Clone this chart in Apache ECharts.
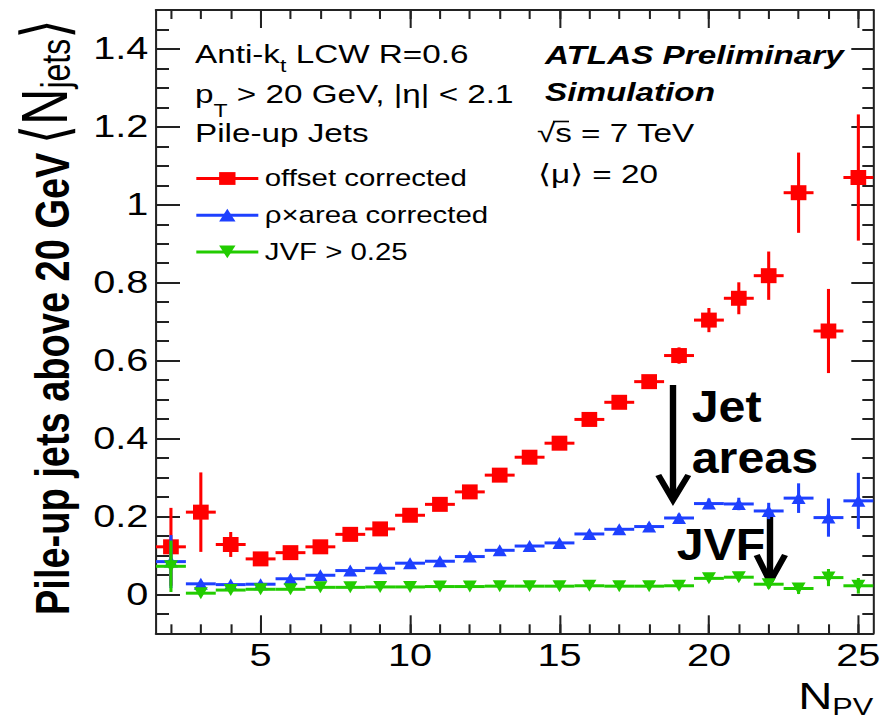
<!DOCTYPE html>
<html>
<head>
<meta charset="utf-8">
<script src="https://cdn.jsdelivr.net/npm/echarts@6/dist/echarts.min.js"></script>
<style>
html, body { margin: 0; padding: 0; background: #ffffff; overflow: hidden; width: 893px; height: 728px; }
#chart { width: 698px; height: 728px; transform: scaleX(1.27937); transform-origin: 0 0; }
</style>
</head>
<body>
<div id="chart"></div>
<script>
// ---------------- data ----------------
const nPV = [2, 3, 4, 5, 6, 7, 8, 9, 10, 11, 12, 13, 14, 15, 16, 17, 18, 19, 20, 21, 22, 23, 24, 25];

const offsetCorrected = [0.122, 0.211, 0.128, 0.091, 0.107, 0.122, 0.154, 0.168, 0.203, 0.231, 0.263, 0.306,
                         0.352, 0.388, 0.449, 0.493, 0.546, 0.613, 0.704, 0.760, 0.818, 1.031, 0.676, 1.070];
const offsetErr       = [0.100, 0.102, 0.032, 0.008, 0.007, 0.007, 0.007, 0.007, 0.008, 0.008, 0.009, 0.009,
                         0.010, 0.011, 0.012, 0.013, 0.015, 0.021, 0.031, 0.041, 0.062, 0.103, 0.108, 0.162];

const rhoAreaCorrected = [0.084, 0.027, 0.025, 0.026, 0.040, 0.049, 0.061, 0.067, 0.080, 0.085, 0.097, 0.113,
                          0.124, 0.132, 0.155, 0.167, 0.174, 0.196, 0.233, 0.232, 0.214, 0.247, 0.197, 0.240];
const rhoAreaErr       = [0.068, 0.004, 0.003, 0.003, 0.003, 0.003, 0.003, 0.004, 0.004, 0.004, 0.005, 0.005,
                          0.006, 0.006, 0.007, 0.008, 0.009, 0.011, 0.013, 0.016, 0.021, 0.038, 0.049, 0.072];

const jvfCut = [0.072, 0.003, 0.011, 0.013, 0.013, 0.018, 0.018, 0.019, 0.019, 0.020, 0.020, 0.021,
                0.021, 0.021, 0.022, 0.021, 0.021, 0.022, 0.041, 0.044, 0.026, 0.015, 0.043, 0.022];
const jvfErr = [0.066, 0.002, 0.002, 0.002, 0.002, 0.002, 0.002, 0.002, 0.002, 0.003, 0.003, 0.003,
                0.003, 0.004, 0.004, 0.004, 0.005, 0.006, 0.008, 0.009, 0.011, 0.014, 0.022, 0.020];

const seriesNames = ['offset corrected', 'ρ×area corrected', 'JVF > 0.25'];

const xTickValues = [5, 10, 15, 20, 25];
const xTickLabels = ['5', '10', '15', '20', '25'];
const xMinorTicks = [2, 3, 4, 5, 6, 7, 8, 9, 10, 11, 12, 13, 14, 15, 16, 17, 18, 19, 20, 21, 22, 23, 24, 25];
const yTickValues = [0, 0.2, 0.4, 0.6, 0.8, 1, 1.2, 1.4];
const yTickLabels = ['0', '0.2', '0.4', '0.6', '0.8', '1', '1.2', '1.4'];
const yMinorTicks = [-0.05, 0.05, 0.1, 0.15, 0.25, 0.3, 0.35, 0.45, 0.5, 0.55, 0.65, 0.7, 0.75,
                     0.85, 0.9, 0.95, 1.05, 1.1, 1.15, 1.25, 1.3, 1.35, 1.45];

// ---------------- layout ----------------
const SX = 893 / 698;               // horizontal stretch applied by CSS
const u = v => v / SX;              // visual x -> chart x
const FONT = "'Liberation Sans', Arial, Helvetica, 'DejaVu Sans', sans-serif";
const FRAME = '#222222';
const COLORS = ['#ff0000', '#1e40ff', '#22cc00'];

const chart = echarts.init(document.getElementById('chart'), null, { renderer: 'svg', width: 698, height: 728 });

function labelFrom(values, labels) {
  return function (v) {
    const i = values.findIndex(t => Math.abs(t - v) < 1e-9);
    return i >= 0 ? labels[i] : '';
  };
}

function xAxisDef(position, ticks, len, withLine, withLabels) {
  const ax = {
    type: 'value', position: position, min: 1.5, max: 25.5,
    axisLine: { show: withLine, onZero: false, lineStyle: { color: FRAME, width: 2 } },
    axisTick: { show: true, inside: true, length: len, customValues: ticks, lineStyle: { color: FRAME, width: 1.6 } },
    axisLabel: { show: false },
    splitLine: { show: false }
  };
  if (withLabels) {
    ax.axisLabel = {
      show: true, customValues: xTickValues, formatter: labelFrom(xTickValues, xTickLabels),
      fontSize: 31, color: '#000', fontFamily: FONT, margin: 7
    };
    ax.name = '{n|N}{s|PV}';
    ax.nameLocation = 'end';
    ax.nameGap = 0;
    ax.nameTextStyle = {
      align: 'right', verticalAlign: 'top', padding: [41, 0, 0, 0],
      rich: {
        n: { fontSize: 37, lineHeight: 44, fontFamily: FONT, color: '#000' },
        s: { fontSize: 24, lineHeight: 24, verticalAlign: 'bottom', fontFamily: FONT, color: '#000' }
      }
    };
  }
  return ax;
}

function yAxisDef(position, ticks, len, withLine, withLabels) {
  const ax = {
    type: 'value', position: position, min: -0.1, max: 1.5,
    axisLine: { show: withLine, onZero: false, lineStyle: { color: FRAME, width: 1.6 } },
    axisTick: { show: true, inside: true, length: len, customValues: ticks, lineStyle: { color: FRAME, width: 2 } },
    axisLabel: { show: false },
    splitLine: { show: false }
  };
  if (withLabels) {
    ax.axisLabel = {
      show: true, customValues: yTickValues, formatter: labelFrom(yTickValues, yTickLabels),
      fontSize: 31, color: '#000', fontFamily: FONT, margin: 6
    };
  }
  return ax;
}

function errRenderer(color) {
  return function (params, api) {
    const x = api.value(0), y = api.value(1), e = api.value(2);
    const pL = api.coord([x - 0.5, y]), pR = api.coord([x + 0.5, y]);
    const pT = api.coord([x, y + e]), pB = api.coord([x, y - e]);
    return {
      type: 'group',
      children: [
        { type: 'line', shape: { x1: pL[0], y1: pL[1], x2: pR[0], y2: pR[1] }, style: { stroke: color, lineWidth: 3 } },
        { type: 'line', shape: { x1: pT[0], y1: pT[1], x2: pB[0], y2: pB[1] }, style: { stroke: color, lineWidth: 2.4 } }
      ]
    };
  };
}

const values = [offsetCorrected, rhoAreaCorrected, jvfCut];
const errors = [offsetErr, rhoAreaErr, jvfErr];
const symbols = ['rect', 'triangle', 'triangle'];
const symbolSizes = [[u(15.7), 15], [u(14), 12], [u(14), 12]];
const symbolRotates = [0, 0, 180];

const series = [];
for (let k = 0; k < 3; k++) {
  series.push({
    type: 'custom', name: seriesNames[k] + ' (error)', xAxisIndex: 0, yAxisIndex: 0,
    renderItem: errRenderer(COLORS[k]),
    data: nPV.map((x, i) => [x, values[k][i], errors[k][i]]),
    encode: { x: 0, y: 1 }, z: 2 + 2 * k, silent: true
  });
  series.push({
    type: 'line', name: seriesNames[k], xAxisIndex: 0, yAxisIndex: 0,
    data: nPV.map((x, i) => [x, values[k][i]]),
    symbol: symbols[k], symbolSize: symbolSizes[k], symbolRotate: symbolRotates[k],
    showSymbol: true, showAllSymbol: true,
    itemStyle: { color: COLORS[k], opacity: 1 },
    lineStyle: { color: COLORS[k], width: 3, opacity: 0 },
    z: 3 + 2 * k, silent: true
  });
}

const txt = (x, y, text, extra) => ({
  type: 'text', x: x, y: y, silent: true,
  style: Object.assign({ text: text, fill: '#000', fontFamily: FONT, fontSize: 26, align: 'left', verticalAlign: 'middle' }, extra || {})
});

const subRich = (mainLH) => ({
  a: { fontSize: 26, lineHeight: mainLH, fontFamily: FONT, color: '#000' },
  s: { fontSize: 18, lineHeight: 18, verticalAlign: 'bottom', fontFamily: FONT, color: '#000' }
});

const option = {
  animation: false,
  backgroundColor: '#ffffff',
  grid: { left: u(156), top: 10, width: u(873.3 - 156), height: 623.3, containLabel: false },
  xAxis: [
    xAxisDef('bottom', xTickValues, 18, true, true),
    xAxisDef('bottom', xMinorTicks, 9, false, false),
    xAxisDef('top', xTickValues, 18, true, false),
    xAxisDef('top', xMinorTicks, 9, false, false)
  ],
  yAxis: [
    yAxisDef('left', yTickValues, u(24), true, true),
    yAxisDef('left', yMinorTicks, u(13), false, false),
    yAxisDef('right', yTickValues, u(22), true, false),
    yAxisDef('right', yMinorTicks, u(11), false, false)
  ],
  legend: {
    data: seriesNames, orient: 'vertical', left: u(188), top: 162,
    itemWidth: u(62), itemHeight: 16, itemGap: 13.7, selectedMode: false,
    textStyle: { fontSize: 23, lineHeight: 23, color: '#000', fontFamily: FONT },
    lineStyle: { width: 3, opacity: 1, type: 'solid' },
    itemStyle: { opacity: 1 }
  },
  series: series,
  graphic: [
    // y-axis title (rotated, reads bottom to top)
    {
      type: 'text', x: 31, y: 615, rotation: Math.PI / 2, silent: true,
      style: {
        text: '{t|Pile-up jets above 20 GeV}{g| }{b|⟨N}{s|jets}{b|⟩}',
        align: 'left', verticalAlign: 'middle',
        rich: {
          t: { fontSize: 38, fontWeight: 'bold', lineHeight: 50, verticalAlign: 'bottom', fontFamily: FONT, color: '#000' },
          g: { fontSize: 30, lineHeight: 50, verticalAlign: 'bottom', fontFamily: FONT },
          b: { fontSize: 50, lineHeight: 58.3, verticalAlign: 'bottom', fontFamily: FONT, color: '#000' },
          s: { fontSize: 32, lineHeight: 28, verticalAlign: 'bottom', fontFamily: FONT, color: '#000' }
        }
      }
    },
    // top-left labels
    txt(u(195), 54, '{a|Anti-k}{s|t}{a| LCW R=0.6}', { rich: subRich(40) }),
    txt(u(195), 93.5, '{a|p}{s|T}{a| > 20 GeV, |η| < 2.1}', { rich: subRich(52) }),
    txt(u(195), 133, 'Pile-up Jets'),
    // top-right labels
    txt(u(545), 55, 'ATLAS Preliminary', { fontWeight: 'bold', fontStyle: 'italic' }),
    txt(u(545), 91.5, 'Simulation', { fontWeight: 'bold', fontStyle: 'italic' }),
    txt(u(537), 133.3, '√s = 7 TeV'),
    { type: 'line', silent: true, shape: { x1: u(553), y1: 121.5, x2: u(569), y2: 121.5 }, style: { stroke: '#000', lineWidth: 1.6 } },
    txt(u(538), 174, '⟨μ⟩ = 20'),
    // annotations
    {
      type: 'text', x: u(691.7), y: 406.1, scaleX: 0.84, silent: true,
      style: { text: 'Jet', fill: '#000', fontFamily: FONT, fontSize: 45, fontWeight: 'bold', align: 'left', verticalAlign: 'middle' }
    },
    {
      type: 'text', x: u(691.7), y: 457.7, scaleX: 0.84, silent: true,
      style: { text: 'areas', fill: '#000', fontFamily: FONT, fontSize: 45, fontWeight: 'bold', align: 'left', verticalAlign: 'middle' }
    },
    {
      type: 'text', x: u(676.7), y: 544.4, scaleX: 0.84, silent: true,
      style: { text: 'JVF', fill: '#000', fontFamily: FONT, fontSize: 45, fontWeight: 'bold', align: 'left', verticalAlign: 'middle' }
    },
    // arrows
    { type: 'line', silent: true, shape: { x1: u(673), y1: 385, x2: u(673), y2: 499 }, style: { stroke: '#000', lineWidth: 5 } },
    { type: 'polyline', silent: true, shape: { points: [[u(658.3), 475], [u(673), 500], [u(688.3), 475]] }, style: { stroke: '#000', lineWidth: 5, fill: null } },
    { type: 'line', silent: true, shape: { x1: u(770), y1: 511.7, x2: u(770), y2: 581 }, style: { stroke: '#000', lineWidth: 5 } },
    { type: 'polyline', silent: true, shape: { points: [[u(756.7), 555], [u(770), 581.7], [u(785), 555]] }, style: { stroke: '#000', lineWidth: 5, fill: null } }
  ]
};

chart.setOption(option);
</script>
</body>
</html>
